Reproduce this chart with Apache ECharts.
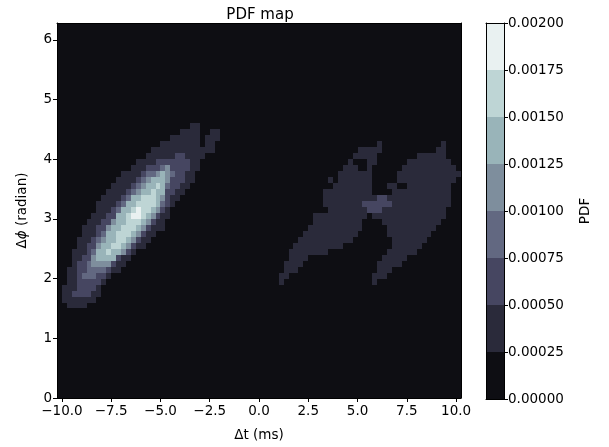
<!DOCTYPE html>
<html>
<head>
<meta charset="utf-8">
<title>PDF map</title>
<script src="https://cdn.jsdelivr.net/npm/echarts@6/dist/echarts.min.js"></script>
<style>
  html, body { margin: 0; padding: 0; background: #fff; }
  #chart { width: 609px; height: 447px; }
</style>
</head>
<body>
<div id="chart"></div>
<script>
// contour levels of the PDF (also the colorbar ticks)
const pdfLevels = [0, 0.00025, 0.0005, 0.00075, 0.001, 0.00125, 0.0015, 0.00175, 0.002];
// bone colormap, one colour per band between two levels
const bandColors = ['#0e0e13', '#2a2a3a', '#464661', '#626881', '#7e8e9d', '#99b4b9', '#bed5d5', '#e9f1f1'];
const xTicks = [-10, -7.5, -5, -2.5, 0, 2.5, 5, 7.5, 10];
const yTicks = [0, 1, 2, 3, 4, 5, 6];

// map cells: 0.25 ms wide, 0.1 rad tall; first row starts at 1.4 rad
const cellX0 = -10.25, cellW = 0.25;
const cellY0 = 1.4, cellH = 0.1;
// per row: [first col, last col, band] = cells where the PDF is at least that band;
// higher bands lie inside lower ones, everything else is band 0
const bandRuns = [
  [],
  [[2,5,1]],
  [[1,7,1]],
  [[1,8,1],[3,6,2]],
  [[1,8,1],[4,7,2]],
  [[2,9,1],[4,8,2],[45,45,1],[64,64,1]],
  [[2,10,1],[4,9,2],[5,7,3],[45,46,1],[64,66,1]],
  [[2,12,1],[4,10,2],[6,9,3],[46,48,1],[65,67,1]],
  [[3,13,1],[4,11,2],[6,10,3],[7,10,4],[46,49,1],[65,69,1]],
  [[3,14,1],[5,12,2],[7,11,3],[7,11,4],[8,11,5],[47,50,1],[66,70,1]],
  [[3,15,1],[6,14,2],[7,12,3],[8,13,4],[8,12,5],[10,10,6],[47,54,1],[67,72,1]],
  [[4,17,1],[6,15,2],[8,13,3],[8,14,4],[9,13,5],[11,12,6],[48,57,1],[68,73,1]],
  [[4,18,1],[7,16,2],[8,15,3],[9,15,4],[10,14,5],[12,13,6],[49,59,1],[68,74,1]],
  [[5,19,1],[8,17,2],[9,16,3],[10,16,4],[10,15,5],[12,14,6],[50,60,1],[67,75,1]],
  [[5,21,1],[8,18,2],[10,17,3],[10,17,4],[11,16,5],[13,15,6],[51,61,1],[67,76,1]],
  [[6,21,1],[9,19,2],[11,18,3],[11,18,4],[12,17,5],[14,16,6],[52,61,1],[66,77,1]],
  [[7,22,1],[10,20,2],[12,19,3],[12,19,4],[12,18,5],[14,17,6],[15,16,7],[52,62,1],[64,78,1]],
  [[8,22,1],[11,21,2],[12,20,3],[13,20,4],[13,19,5],[15,18,6],[16,16,7],[55,78,1],[63,65,2]],
  [[8,23,1],[12,22,2],[13,21,3],[14,20,4],[14,20,5],[16,19,6],[54,79,1],[62,67,2]],
  [[9,24,1],[13,22,2],[14,21,3],[15,21,4],[15,20,5],[17,19,6],[54,79,1],[65,66,2]],
  [[10,25,1],[14,23,2],[15,21,3],[16,21,4],[17,21,5],[19,19,6],[54,63,1],[68,79,1]],
  [[11,26,1],[15,24,2],[16,22,3],[17,21,4],[18,21,5],[20,20,6],[56,63,1],[67,68,1],[71,79,1]],
  [[12,27,1],[16,25,2],[17,22,3],[18,22,4],[19,21,5],[55,55,1],[57,63,1],[69,80,1]],
  [[13,27,1],[17,25,2],[18,23,3],[20,22,4],[21,21,5],[57,63,1],[69,81,1]],
  [[15,28,1],[18,26,2],[21,22,3],[22,22,4],[58,60,1],[63,63,1],[70,80,1]],
  [[16,28,1],[20,26,2],[59,59,1],[63,64,1],[71,79,1]],
  [[18,29,1],[24,25,2],[60,64,1],[73,78,1]],
  [[19,31,1],[61,65,1],[77,78,1]],
  [[21,28,1],[30,31,1],[65,65,1],[78,78,1]],
  [[23,28,1],[30,32,1]],
  [[25,28,1],[31,32,1]],
  [[27,28,1]]
];

const cells = [];
bandRuns.forEach(function (runs, j) {
  const y0 = cellY0 + j * cellH;
  runs.forEach(function (r) {
    cells.push([cellX0 + r[0] * cellW, cellX0 + (r[1] + 1) * cellW, y0, y0 + cellH, r[2]]);
  });
});
// lower bands first, higher bands painted over them
cells.sort(function (a, b) { return a[4] - b[4]; });

const colorbarBands = [];
for (let k = 0; k < bandColors.length; k++) {
  colorbarBands.push([0, 1, pdfLevels[k], pdfLevels[k + 1], k]);
}

function renderBand(params, api) {
  const a = api.coord([api.value(0), api.value(3)]);
  const b = api.coord([api.value(1), api.value(2)]);
  const x0 = Math.round(a[0]), y0 = Math.round(a[1]);
  const x1 = Math.round(b[0]), y1 = Math.round(b[1]);
  return {
    type: 'rect',
    shape: { x: x0, y: y0, width: x1 - x0, height: y1 - y0 },
    style: { fill: bandColors[api.value(4)] }
  };
}

const font = 'DejaVu Sans';
const txt = { color: '#000', fontSize: 13.5, fontFamily: font };
const frameLine = { show: true, onZero: false, lineStyle: { color: '#000', width: 1 } };
const bare = { axisTick: { show: false }, axisLabel: { show: false }, splitLine: { show: false } };

const chart = echarts.init(document.getElementById('chart'));
chart.setOption({
  animation: false,
  backgroundColor: '#fff',
  title: {
    text: 'PDF map', left: 255, top: 3, textAlign: 'center',
    textStyle: { color: '#000', fontSize: 15, fontWeight: 'normal', fontFamily: font }
  },
  grid: [
    { left: 57, top: 23, width: 404, height: 376, show: true, backgroundColor: bandColors[0], borderWidth: 0 },
    { left: 486, top: 23, width: 18, height: 376 }
  ],
  xAxis: [
    {
      gridIndex: 0, type: 'value', min: -10.25, max: 10.25, position: 'bottom', z: 10,
      axisLine: frameLine,
      axisTick: { show: true, length: 4, customValues: xTicks, lineStyle: { color: '#000' } },
      axisLabel: Object.assign({ customValues: xTicks, margin: 6,
        formatter: function (v) { return v.toFixed(1).replace('-', '\u2212'); } }, txt),
      splitLine: { show: false },
      name: 'Δt (ms)', nameLocation: 'middle', nameGap: 30, nameTextStyle: txt
    },
    Object.assign({ gridIndex: 0, type: 'value', min: -10.25, max: 10.25, position: 'top', z: 10, axisLine: frameLine }, bare),
    Object.assign({ gridIndex: 1, type: 'value', min: 0, max: 1, position: 'bottom', z: 10, axisLine: frameLine }, bare),
    Object.assign({ gridIndex: 1, type: 'value', min: 0, max: 1, position: 'top', z: 10, axisLine: frameLine }, bare)
  ],
  yAxis: [
    {
      gridIndex: 0, type: 'value', min: 0, max: 2 * Math.PI, position: 'left', z: 10,
      axisLine: frameLine,
      axisTick: { show: true, length: 4, customValues: yTicks, lineStyle: { color: '#000' } },
      axisLabel: Object.assign({ customValues: yTicks, margin: 5 }, txt),
      splitLine: { show: false },
      name: 'Δ{i|ϕ} (radian)', nameLocation: 'middle', nameGap: 28,
      nameTextStyle: Object.assign({ rich: { i: { fontStyle: 'italic', fontSize: 13.5, fontFamily: font, color: '#000' } } }, txt)
    },
    Object.assign({ gridIndex: 0, type: 'value', min: 0, max: 2 * Math.PI, position: 'right', z: 10, axisLine: frameLine }, bare),
    Object.assign({ gridIndex: 1, type: 'value', min: 0, max: 0.002, position: 'left', z: 10, axisLine: frameLine }, bare),
    {
      gridIndex: 1, type: 'value', min: 0, max: 0.002, interval: 0.00025, position: 'right', z: 10,
      axisLine: frameLine,
      axisTick: { show: true, length: 4, lineStyle: { color: '#000' } },
      axisLabel: Object.assign({ margin: 4, formatter: function (v) { return v.toFixed(5); } }, txt),
      splitLine: { show: false },
      name: 'PDF', nameLocation: 'middle', nameGap: 74, nameTextStyle: txt
    }
  ],
  series: [
    {
      type: 'custom', xAxisIndex: 0, yAxisIndex: 0, clip: true,
      renderItem: renderBand, encode: { x: [0, 1], y: [2, 3] }, data: cells
    },
    {
      type: 'custom', xAxisIndex: 2, yAxisIndex: 2,
      renderItem: renderBand, encode: { x: [0, 1], y: [2, 3] }, data: colorbarBands
    }
  ]
});
</script>
</body>
</html>
